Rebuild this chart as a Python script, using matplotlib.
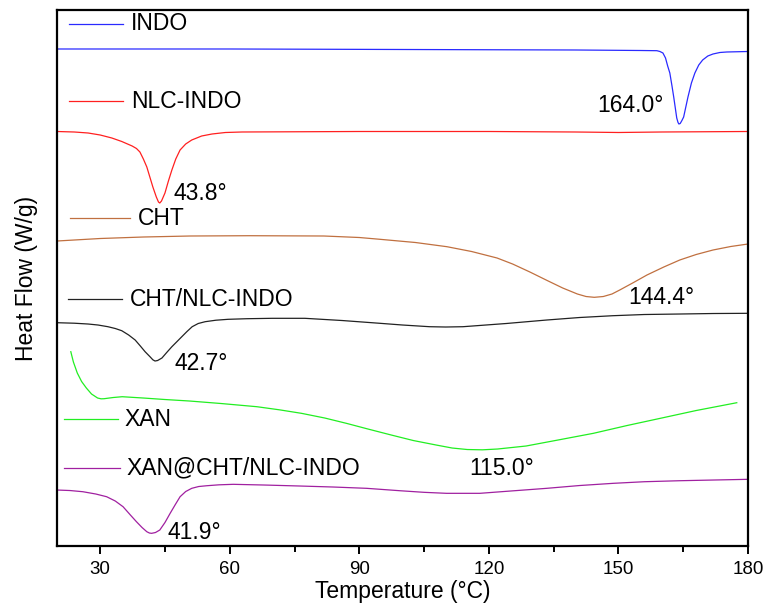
import matplotlib.pyplot as plt

plt.rcParams['font.family'] = ['Liberation Sans', 'DejaVu Sans']

# DSC traces (temperature in °C, heat flow in arbitrary stacked units)
indo_t = [20, 60, 100, 140, 155, 158.9, 159.6, 160.3, 160.9, 161.4, 161.9, 162.4, 162.8, 163.2, 163.5, 163.8, 164.0,
          164.3, 164.7, 165.1, 165.6, 166.1, 166.9, 167.7, 168.6, 169.5, 170.7, 171.9, 173.5, 175.1, 180]
indo_y = [4.97, 4.97, 4.965, 4.96, 4.955, 4.953, 4.945, 4.93, 4.88, 4.80, 4.73, 4.60, 4.49, 4.37, 4.28, 4.235, 4.22,
          4.225, 4.255, 4.29, 4.39, 4.49, 4.63, 4.73, 4.81, 4.86, 4.90, 4.92, 4.935, 4.94, 4.945]

nlc_t = [20, 24, 27.2, 30, 32.7, 35, 37.4, 38.4, 39.2, 40.0, 40.8, 41.5, 42.2, 43.0, 43.5, 43.8, 44.2, 44.6, 45.0,
         45.8, 46.6, 47.5, 48.5, 49.8, 51.2, 53.5, 55.9, 59, 62.8, 90, 120, 140, 150, 160, 180]
nlc_y = [4.145, 4.14, 4.13, 4.11, 4.08, 4.045, 4.00, 3.975, 3.94, 3.87, 3.79, 3.69, 3.59, 3.49, 3.44, 3.43, 3.45, 3.49, 3.53,
         3.65, 3.76, 3.87, 3.96, 4.02, 4.06, 4.10, 4.12, 4.135, 4.14, 4.145, 4.145, 4.14, 4.135, 4.14, 4.145]

cht_t = [20, 30, 40, 50.8, 64.7, 81.8, 90, 94.8, 103, 110.3, 116, 121.9, 125.5, 129.5, 133.5, 137.1, 140.5, 142.5,
         144.4, 146.5, 148.5, 150.3, 153.5, 156.6, 160.5, 164.2, 168, 171.9, 176, 180]
cht_y = [3.05, 3.075, 3.09, 3.10, 3.103, 3.10, 3.085, 3.067, 3.035, 2.993, 2.945, 2.88, 2.82, 2.74, 2.655, 2.58, 2.52, 2.495,
         2.487, 2.495, 2.52, 2.56, 2.635, 2.71, 2.79, 2.86, 2.915, 2.96, 2.995, 3.02]

chtnlc_t = [20, 24, 27.2, 29.5, 31.8, 33.5, 35.0, 36.6, 38.1, 39.3, 40.4, 41.6, 42.2, 42.7, 43.3, 44.3, 45.4, 46.6, 47.8,
            48.9, 50.1, 51.3, 52.7, 54.3, 56.8, 59.6, 64, 69.8, 77.4, 86, 94.8, 100, 106.3, 110, 114, 124, 133.4, 141,
            148.7, 156, 164.2, 172, 180]
chtnlc_y = [2.233, 2.228, 2.22, 2.21, 2.193, 2.175, 2.153, 2.11, 2.06, 2.00, 1.943, 1.89, 1.862, 1.85, 1.855, 1.88, 1.935,
            1.993, 2.045, 2.093, 2.145, 2.193, 2.225, 2.243, 2.258, 2.267, 2.273, 2.277, 2.277, 2.255, 2.227, 2.21, 2.193,
            2.19, 2.193, 2.225, 2.26, 2.285, 2.303, 2.315, 2.32, 2.325, 2.327]

xan_t = [23.2, 23.8, 24.7, 25.7, 26.8, 28.0, 29.4, 30.2, 30.9, 33, 35.1, 40, 45, 50.7, 58, 66.3, 71.5, 76.6, 82, 87.0,
         92, 97.4, 102.5, 107.8, 111.5, 115.0, 118.5, 122, 128.6, 136, 144.2, 152, 159.7, 168, 177.4]
xan_y = [1.943, 1.84, 1.73, 1.645, 1.58, 1.52, 1.48, 1.472, 1.473, 1.485, 1.493, 1.48, 1.465, 1.45, 1.425, 1.393, 1.362,
         1.327, 1.28, 1.227, 1.17, 1.11, 1.055, 1.01, 0.98, 0.965, 0.962, 0.97, 1.00, 1.06, 1.127, 1.205, 1.277, 1.355, 1.433]

xanc_t = [20, 23, 26.0, 29, 31.5, 33.5, 35.3, 37, 38.4, 39.7, 40.8, 41.4, 41.9, 42.8, 43.8, 45.0, 46.2, 47.4, 48.5, 49.8,
          51.2, 52.8, 54.7, 57.5, 60.8, 68, 76.3, 84, 91.7, 99.4, 105, 110.2, 117.9, 125, 133.4, 141, 148.8, 156, 164.2,
          172, 180]
xanc_y = [0.56, 0.555, 0.543, 0.52, 0.493, 0.45, 0.393, 0.31, 0.243, 0.185, 0.143, 0.13, 0.127, 0.135, 0.16, 0.235, 0.327,
          0.415, 0.493, 0.545, 0.577, 0.595, 0.603, 0.612, 0.617, 0.61, 0.60, 0.59, 0.577, 0.553, 0.537, 0.527, 0.527,
          0.55, 0.577, 0.605, 0.627, 0.643, 0.653, 0.66, 0.667]

names = ['INDO', 'NLC-INDO', 'CHT', 'CHT/NLC-INDO', 'XAN', 'XAN@CHT/NLC-INDO']
colors = ['#2a2aff', '#ff2020', '#c07040', '#222222', '#22ee22', '#a020a0']
peak_labels = ['164.0°', '43.8°', '144.4°', '42.7°', '115.0°', '41.9°']

curves = [(indo_t, indo_y), (nlc_t, nlc_y), (cht_t, cht_y),
          (chtnlc_t, chtnlc_y), (xan_t, xan_y), (xanc_t, xanc_y)]

# label placement (legend-like line + name, peak annotation)
key_pos = [(22.8, 35.3, 37.1, 5.22), (22.8, 35.3, 37.1, 4.445), (23.0, 36.9, 38.7, 3.28),
           (22.5, 35.0, 36.9, 2.47), (21.6, 34.1, 35.7, 1.27), (21.6, 34.6, 36.0, 0.78)]
peak_pos = [(145.0, 4.40), (46.9, 3.53), (152.2, 2.49), (47.3, 1.83), (115.4, 0.78), (45.5, 0.14)]

fig = plt.figure(figsize=(7.66, 6.09), dpi=100)
ax = fig.add_axes([0.0744, 0.1034, 0.9021, 0.8802])

for (t, y), name, c, pk, kp, pp in zip(curves, names, colors, peak_labels, key_pos, peak_pos):
    ax.plot(t, y, color=c, lw=0.9)
    ax.plot([kp[0], kp[1]], [kp[3], kp[3]], color=c, lw=0.9)
    ax.text(kp[2], kp[3], name, fontsize=16.5, va='center', ha='left')
    ax.text(pp[0], pp[1], pk, fontsize=16.5, va='center', ha='left')

ax.set_xlim(20, 180)
ax.set_ylim(0, 5.36)
ax.set_xticks([30, 60, 90, 120, 150, 180])
ax.set_xticks([45, 75, 105, 135, 165], minor=True)
ax.set_yticks([])
ax.tick_params(axis='x', which='major', direction='out', length=6, width=1.4, labelsize=13.5, pad=5)
ax.tick_params(axis='x', which='minor', direction='out', length=4, width=1.4)
for s in ax.spines.values():
    s.set_linewidth(1.6)

ax.set_xlabel('Temperature (°C)', fontsize=16.5, labelpad=1)
ax.set_ylabel('Heat Flow (W/g)', fontsize=16.5, labelpad=14)

plt.savefig('out.png', dpi=100)
